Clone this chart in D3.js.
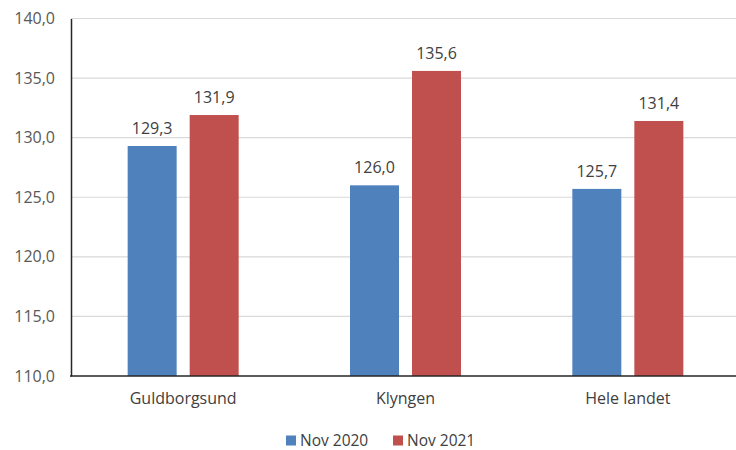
<!DOCTYPE html>
<html><head><meta charset="utf-8">
<script src="https://cdn.jsdelivr.net/npm/d3@7"></script>
<style>body{margin:0;background:#fff;} svg{display:block;font-family:"Open Sans","Liberation Sans",sans-serif;}</style>
</head><body>
<svg id="c" width="736" height="450"></svg>
<script>
const categories = ["Guldborgsund", "Klyngen", "Hele landet"];
const seriesNames = ["Nov 2020", "Nov 2021"];
const nov2020 = [129.3, 126.0, 125.7];
const nov2021 = [131.9, 135.6, 131.4];
const yTicks = [110, 115, 120, 125, 130, 135, 140];
const colors = ["#4f81bd", "#c0504d"];

const svg = d3.select("#c");
const m = {l: 71, r: 739, t: 18.5, b: 376};
const fs = "16px";
const fmt = v => d3.format(".1f")(v).replace(".", ",");
const x = d3.scaleBand().domain(categories).range([m.l + 1, m.r]).paddingInner(0).paddingOuter(0);
const bw = x.bandwidth();
const x1 = d3.scaleBand().domain(seriesNames).range([bw / 2 - 55.5, bw / 2 + 55.5]).paddingInner(0.21).paddingOuter(0);
const y = d3.scaleLinear().domain([110, 140]).range([m.b, m.t]);

// gridlines
svg.append("g").selectAll("line").data(yTicks.filter(t => t > 110)).join("line")
  .attr("x1", m.l).attr("x2", 736).attr("y1", d => y(d)).attr("y2", d => y(d))
  .attr("stroke", "#d9d9d9").attr("stroke-width", 1.2);

// y axis
const ya = svg.append("g").attr("transform", `translate(${m.l},0)`)
  .call(d3.axisLeft(y).tickValues(yTicks).tickFormat(fmt).tickSize(0).tickPadding(16));
ya.select(".domain").attr("stroke", "#262626").attr("stroke-width", 1.5);
ya.selectAll("text").attr("fill", "#595959").style("font-size", fs).style("font-family", "'Open Sans',sans-serif");

// bars
const data = categories.map((c, i) => ({c, vals: [nov2020[i], nov2021[i]]}));
const g = svg.append("g").selectAll("g").data(data).join("g").attr("transform", d => `translate(${x(d.c)},0)`);
g.selectAll("rect").data(d => d.vals.map((v, j) => ({s: seriesNames[j], v, j}))).join("rect")
  .attr("x", d => x1(d.s)).attr("width", x1.bandwidth())
  .attr("y", d => y(d.v)).attr("height", d => y(110) - y(d.v))
  .attr("fill", d => colors[d.j]);
g.selectAll("text").data(d => d.vals.map((v, j) => ({s: seriesNames[j], v, j}))).join("text")
  .attr("x", d => x1(d.s) + x1.bandwidth() / 2).attr("y", d => y(d.v) - 12)
  .attr("text-anchor", "middle").attr("fill", "#404040").style("font-size", fs)
  .text(d => fmt(d.v));

// x axis
const xa = svg.append("g").attr("transform", `translate(0,${m.b})`)
  .call(d3.axisBottom(x).tickSize(0).tickPadding(17));
xa.select(".domain").remove();
svg.append("line").attr("x1", m.l - 1).attr("x2", 736).attr("y1", m.b).attr("y2", m.b)
  .attr("stroke", "#262626").attr("stroke-width", 1.5);
xa.selectAll("text").attr("fill", "#404040").style("font-size", fs).style("font-family", "'Open Sans',sans-serif");

// legend
const leg = svg.append("g");
const lx = [286, 393];
seriesNames.forEach((s, i) => {
  leg.append("rect").attr("x", lx[i]).attr("y", 435.5).attr("width", 10).attr("height", 10).attr("fill", colors[i]);
  leg.append("text").attr("x", lx[i] + 14).attr("y", 445.5).attr("fill", "#404040").style("font-size", "15.5px").text(s);
});
</script>
</body></html>
